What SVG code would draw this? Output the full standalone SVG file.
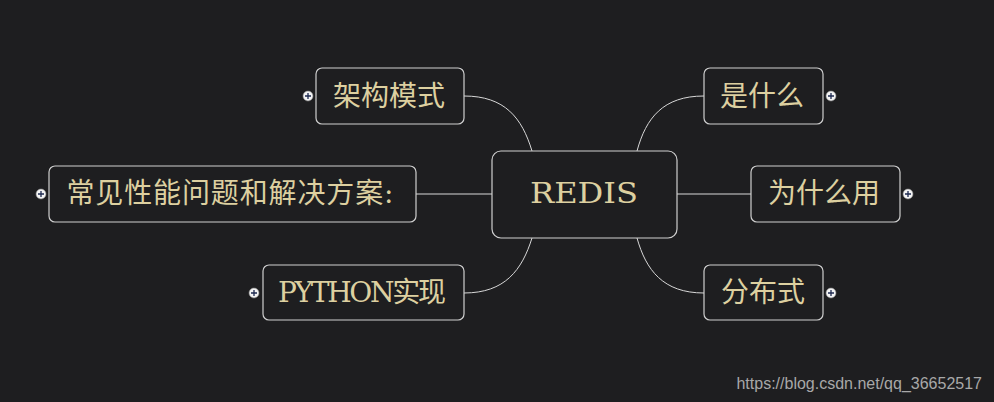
<svg xmlns="http://www.w3.org/2000/svg" width="994" height="402" viewBox="0 0 994 402">
<style>
.box{fill:#1e1e20;stroke:#cfcfcf;stroke-width:1.2}
.t{fill:#ddd0a0;font-family:"DejaVu Serif","Noto Sans CJK SC",serif;font-size:28px;text-anchor:middle;dominant-baseline:central}
.c{fill:none;stroke:#d8d8d8;stroke-width:1}
.dot{fill:#f4f4f4;stroke:#888;stroke-width:0.6}
.pl{stroke:#1e2a50;stroke-width:1.3}
</style>
<defs>
<g id="plus"><circle class="dot" r="5"/><path class="pl" d="M-3,0H3M0,-3V3"/></g>
</defs>
<rect width="994" height="402" fill="#1e1e20"/>
<g id="connectors">
<path class="c" d="M464,96 C505,96 522,118 532,151"/>
<path class="c" d="M416,194 H492"/>
<path class="c" d="M464,293 C505,293 522,270 532,238"/>
<path class="c" d="M704,96 C663,96 646,118 637,151"/>
<path class="c" d="M677,194 H751"/>
<path class="c" d="M704,293 C663,293 646,270 637,238"/>
</g>
<g id="redis">
<rect class="box" x="492" y="151" width="185" height="87" rx="9"/>
<text class="t" x="584" y="193" font-size="38" textLength="108" lengthAdjust="spacingAndGlyphs">REDIS</text>
</g>
<g id="jiagou">
<rect class="box" x="316" y="68" width="148" height="56" rx="6"/>
<text class="t" x="389" y="96" font-family="Noto Sans CJK SC,sans-serif">架构模式</text>
<use href="#plus" x="308" y="96"/>
</g>
<g id="changjian">
<rect class="box" x="49" y="166" width="367" height="56" rx="6"/>
<text class="t" x="230" y="193" font-family="Noto Sans CJK SC,sans-serif" textLength="327">常见性能问题和解决方案:</text>
<use href="#plus" x="41" y="194"/>
</g>
<g id="python">
<rect class="box" x="263" y="265" width="201" height="55" rx="6"/>
<text class="t" x="362" y="292" font-size="27" textLength="168">PYTHON实现</text>
<use href="#plus" x="254" y="293"/>
</g>
<g id="shishenme">
<rect class="box" x="704" y="68" width="119" height="56" rx="6"/>
<text class="t" x="762" y="96" font-family="Noto Sans CJK SC,sans-serif">是什么</text>
<use href="#plus" x="831" y="96"/>
</g>
<g id="weishenme">
<rect class="box" x="751" y="166" width="149" height="56" rx="6"/>
<text class="t" x="824" y="193" font-family="Noto Sans CJK SC,sans-serif">为什么用</text>
<use href="#plus" x="908" y="194"/>
</g>
<g id="fenbushi">
<rect class="box" x="704" y="265" width="119" height="55" rx="6"/>
<text class="t" x="763" y="292" font-family="Noto Sans CJK SC,sans-serif">分布式</text>
<use href="#plus" x="831" y="293"/>
</g>
<text x="982" y="389" fill="#a8a8a8" font-family="Liberation Sans,Arial,sans-serif" font-size="16" text-anchor="end">https://blog.csdn.net/qq_36652517</text>
</svg>
